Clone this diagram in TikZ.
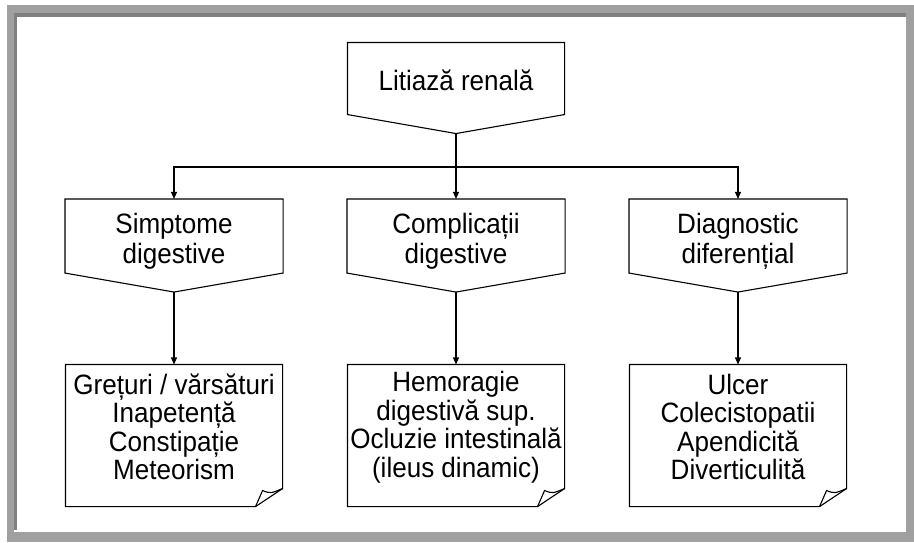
\documentclass[tikz,border=0pt]{standalone}
\usepackage{fontspec}
\setmainfont[FakeStretch=0.93]{Liberation Sans}
\usepackage{tikz}
\usetikzlibrary{arrows.meta}
\definecolor{framegray}{RGB}{160,160,160}
\definecolor{shadegray}{RGB}{128,128,128}

\begin{document}
\begin{tikzpicture}[x=1pt,y=-1pt,line width=1.1pt,
  every node/.style={font=\fontsize{28}{30}\selectfont,align=center,inner sep=0pt},
  offpage/.style={minimum width=217pt,minimum height=73pt},
  docbox/.style={minimum width=216pt,minimum height=141pt},
  doctext/.style={font=\fontsize{28}{28.5}\selectfont,yshift=8.5pt},
  midtext/.style={yshift=-5pt},
  flow/.style={-{Triangle[length=7pt,width=6pt]}}]
\useasboundingbox (0,0) rectangle (914,542);
% frame
\fill[framegray] (7,5) rectangle (914,542);
\fill[white] (14,13) rectangle (906,532);
\fill[shadegray] (14,13) rectangle (906,16.5);
\fill[shadegray] (14,13) rectangle (17,530);
% boxes
\node[offpage,minimum width=216pt,minimum height=71pt,
  label={[yshift=-2pt]center:Litiază renală}] (litiaza) at (456,78.5) {};
\node[offpage,label={[midtext]center:{Simptome\\digestive}}] (simptome) at (174,236) {};
\node[offpage,label={[midtext]center:{Complicații\\digestive}}] (complicatii) at (456,236) {};
\node[offpage,label={[midtext]center:{Diagnostic\\diferențial}}] (diagnostic) at (738,236) {};
\node[docbox,label={[doctext]center:{Grețuri / vărsături\\Inapetență\\Constipație\\Meteorism}}] (greturi) at (174,435.5) {};
\node[docbox,label={[doctext]center:{Hemoragie\\digestivă sup.\\Ocluzie intestinală\\(ileus dinamic)}}] (hemoragie) at (456,435.5) {};
\node[docbox,label={[doctext]center:{Ulcer\\Colecistopatii\\Apendicită\\Diverticulită}}] (ulcer) at (738,435.5) {};
% outlines
\foreach \n in {litiaza,simptome,complicatii,diagnostic}{
  \draw (\n.north west) -- (\n.north east) -- (\n.south east) -- ([yshift=-19pt]\n.south) -- (\n.south west) -- cycle;
  \coordinate (\n-tip) at ([yshift=-19pt]\n.south);
}
\foreach \n in {greturi,hemoragie,ulcer}{
  \draw (\n.north west) -- (\n.north east) -- ([yshift=18pt]\n.south east) -- ([xshift=-27pt]\n.south east) -- (\n.south west) -- cycle;
  \draw ([xshift=-27pt]\n.south east) -- ([xshift=-20pt,yshift=16pt]\n.south east) .. controls ([xshift=-12pt,yshift=13pt]\n.south east) .. ([yshift=18pt]\n.south east);
}
% connectors
\coordinate (bus) at (456,167);
\foreach \n in {simptome,complicatii,diagnostic}
  \draw[flow] (litiaza-tip) -- (bus) -| (\n.north);
\foreach \a/\b in {simptome/greturi,complicatii/hemoragie,diagnostic/ulcer}
  \draw[flow] (\a-tip) -- (\b.north);
\end{tikzpicture}
\end{document}
